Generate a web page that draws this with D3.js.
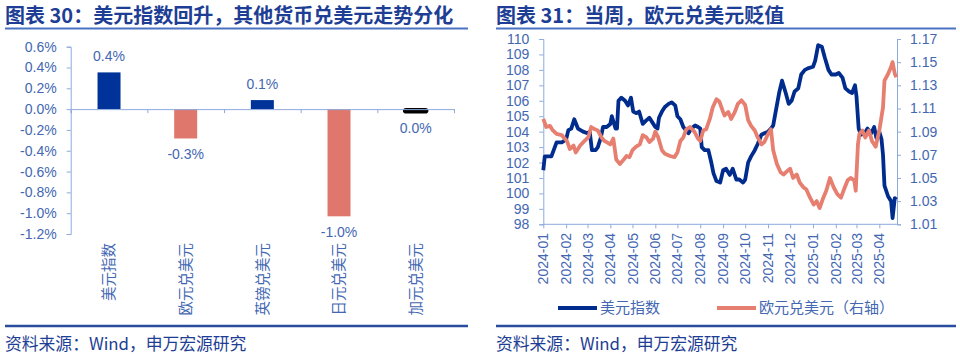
<!DOCTYPE html>
<html><head><meta charset="utf-8">
<script src="https://cdn.jsdelivr.net/npm/d3@7"></script>
<style>body{margin:0;background:#fff;} svg{display:block;}</style>
</head><body><svg id="c" width="960" height="358"></svg>
<script>
// ---------- data ----------
const barCategories = ["美元指数","欧元兑美元","英镑兑美元","日元兑美元","加元兑美元"];
const barValues = [0.353, -0.282, 0.087, -1.03, -0.03];
const barLabels = ["0.4%","-0.3%","0.1%","-1.0%","0.0%"];
const barTickValues = [0.6,0.4,0.2,0.0,-0.2,-0.4,-0.6,-0.8,-1.0,-1.2];

const dxyDates = ["2024-01-01","2024-01-03","2024-01-12","2024-01-19","2024-01-26","2024-02-01","2024-02-04","2024-02-08","2024-02-12","2024-02-17","2024-02-24","2024-03-01","2024-03-04","2024-03-07","2024-03-12","2024-03-15","2024-03-19","2024-03-22","2024-03-27","2024-04-01","2024-04-03","2024-04-08","2024-04-10","2024-04-12","2024-04-16","2024-04-21","2024-04-25","2024-04-29","2024-05-02","2024-05-06","2024-05-10","2024-05-15","2024-05-19","2024-05-24","2024-05-28","2024-06-01","2024-06-04","2024-06-06","2024-06-10","2024-06-14","2024-06-19","2024-06-23","2024-06-28","2024-07-01","2024-07-05","2024-07-09","2024-07-16","2024-07-20","2024-07-25","2024-07-29","2024-08-01","2024-08-03","2024-08-07","2024-08-12","2024-08-16","2024-08-19","2024-08-23","2024-08-28","2024-09-01","2024-09-05","2024-09-10","2024-09-14","2024-09-19","2024-09-23","2024-09-28","2024-10-01","2024-10-05","2024-10-09","2024-10-14","2024-10-18","2024-10-23","2024-10-27","2024-11-01","2024-11-05","2024-11-08","2024-11-11","2024-11-16","2024-11-20","2024-11-25","2024-11-29","2024-12-03","2024-12-07","2024-12-12","2024-12-16","2024-12-21","2024-12-25","2025-01-01","2025-01-04","2025-01-08","2025-01-13","2025-01-17","2025-01-22","2025-01-26","2025-02-01","2025-02-05","2025-02-10","2025-02-14","2025-02-19","2025-02-23","2025-02-27","2025-03-01","2025-03-04","2025-03-07","2025-03-12","2025-03-16","2025-03-21","2025-03-25","2025-03-28","2025-04-01","2025-04-04","2025-04-06","2025-04-08","2025-04-13","2025-04-17","2025-04-19","2025-04-22","2025-04-24"];
const dxyValues = [101.5,102.4,102.4,103.3,103.3,103.5,104.1,104.2,104.8,104.2,104.0,103.9,104.0,102.8,102.8,103.0,103.6,104.3,104.3,104.5,105.0,104.2,104.2,106.0,106.2,106.0,105.7,106.2,105.3,105.2,105.3,104.5,104.7,104.9,104.6,104.3,104.2,104.9,105.3,105.6,105.8,105.9,105.7,105.0,104.8,104.3,103.9,104.2,104.4,104.3,104.2,103.0,102.8,102.8,102.0,101.3,100.8,100.7,101.5,101.6,101.2,101.6,100.9,100.9,100.7,100.9,102.0,102.4,102.8,103.2,103.8,103.9,104.0,104.2,104.4,105.2,106.5,107.3,106.5,105.8,106.0,106.6,106.8,107.7,108.0,108.1,108.2,108.6,109.6,109.5,108.8,108.0,107.7,107.7,107.8,107.5,106.8,106.6,106.5,107.0,106.3,104.2,103.8,103.9,104.2,103.9,104.3,103.6,104.0,103.5,102.5,100.5,99.8,99.5,98.4,99.7,99.6];

const eurDates = ["2024-01-01","2024-01-05","2024-01-10","2024-01-14","2024-01-19","2024-01-26","2024-02-02","2024-02-06","2024-02-11","2024-02-14","2024-02-20","2024-02-26","2024-03-02","2024-03-06","2024-03-11","2024-03-15","2024-03-20","2024-03-24","2024-04-01","2024-04-05","2024-04-09","2024-04-14","2024-04-18","2024-04-23","2024-04-27","2024-05-01","2024-05-06","2024-05-11","2024-05-15","2024-05-20","2024-05-24","2024-05-29","2024-06-01","2024-06-05","2024-06-10","2024-06-14","2024-06-21","2024-06-27","2024-07-01","2024-07-05","2024-07-09","2024-07-13","2024-07-18","2024-07-24","2024-07-29","2024-08-01","2024-08-05","2024-08-09","2024-08-14","2024-08-18","2024-08-23","2024-08-27","2024-09-01","2024-09-03","2024-09-08","2024-09-12","2024-09-17","2024-09-21","2024-09-26","2024-10-01","2024-10-05","2024-10-09","2024-10-14","2024-10-18","2024-10-23","2024-10-27","2024-11-01","2024-11-05","2024-11-08","2024-11-13","2024-11-18","2024-11-22","2024-11-27","2024-12-01","2024-12-05","2024-12-10","2024-12-14","2024-12-19","2024-12-23","2024-12-28","2025-01-02","2025-01-06","2025-01-10","2025-01-15","2025-01-19","2025-01-24","2025-01-29","2025-02-03","2025-02-08","2025-02-12","2025-02-17","2025-02-21","2025-02-26","2025-02-28","2025-03-03","2025-03-05","2025-03-09","2025-03-13","2025-03-18","2025-03-22","2025-03-27","2025-04-01","2025-04-04","2025-04-06","2025-04-08","2025-04-13","2025-04-17","2025-04-19","2025-04-22","2025-04-24"];
const eurValues = [1.101,1.094,1.095,1.091,1.088,1.087,1.082,1.075,1.078,1.072,1.078,1.082,1.085,1.094,1.092,1.091,1.085,1.082,1.079,1.084,1.066,1.062,1.065,1.069,1.068,1.074,1.077,1.079,1.087,1.085,1.081,1.084,1.090,1.085,1.074,1.071,1.069,1.068,1.072,1.082,1.085,1.092,1.094,1.090,1.084,1.082,1.091,1.092,1.101,1.111,1.118,1.116,1.107,1.104,1.107,1.101,1.107,1.114,1.117,1.113,1.100,1.095,1.091,1.085,1.079,1.081,1.088,1.092,1.074,1.062,1.055,1.053,1.056,1.058,1.050,1.053,1.046,1.042,1.040,1.033,1.027,1.030,1.024,1.033,1.039,1.050,1.042,1.036,1.033,1.040,1.048,1.050,1.048,1.039,1.079,1.088,1.091,1.085,1.091,1.082,1.077,1.091,1.103,1.111,1.134,1.140,1.146,1.150,1.140,1.137];

const monthTicks = ["2024-01","2024-02","2024-03","2024-04","2024-05","2024-06","2024-07","2024-08","2024-09","2024-10","2024-11","2024-12","2025-01","2025-02","2025-03","2025-04"];
const leftAxisTicks = [98,99,100,101,102,103,104,105,106,107,108,109,110];
const rightAxisTicks = [1.01,1.03,1.05,1.07,1.09,1.11,1.13,1.15,1.17];
const seriesNames = ["美元指数","欧元兑美元（右轴）"];

// ---------- styles ----------
const C_TEXT = "#4467b2", C_AXIS = "#8eaadb", C_TITLE = "#1d3e94";
const C_BLUE = "#00339a", C_RED = "#e0776c";
const barColors = [C_BLUE, C_RED, C_BLUE, C_RED, "#000000"];
const NUM_FONT = "'Liberation Sans', Arial, sans-serif";
const CJK_FONT = "'Noto Sans CJK SC', sans-serif";

const svg = d3.select("#c");
svg.append("rect").attr("width",960).attr("height",358).attr("fill","#fff");

// titles & frame lines
function header(x, x2, text) {
  svg.append("text").attr("x", x).attr("y", 23).attr("fill", C_TITLE)
    .attr("font-family", CJK_FONT).attr("font-weight", "bold").attr("font-size", 20).text(text);
  svg.append("line").attr("x1", x).attr("x2", x2).attr("y1", 28.5).attr("y2", 28.5)
    .attr("stroke", "#4a72c2").attr("stroke-width", 2);
  svg.append("line").attr("x1", x).attr("x2", x2).attr("y1", 326).attr("y2", 326)
    .attr("stroke", "#2a4c9e").attr("stroke-width", 2.5);
  svg.append("text").attr("x", x).attr("y", 350).attr("fill", C_TITLE)
    .attr("font-family", CJK_FONT).attr("font-size", 16.8).text("资料来源：Wind，申万宏源研究");
}
header(5, 468, "图表 30：美元指数回升，其他货币兑美元走势分化");
header(496, 956, "图表 31：当周，欧元兑美元贬值");

// ---------- left bar chart ----------
const bx = d3.scaleBand().domain(barCategories).range([70.7, 454]).paddingInner(0.7).paddingOuter(0.35);
const by = d3.scaleLinear().domain([-1.2, 0.6]).range([234, 46.7]);
const g1 = svg.append("g");

const yAx = g1.append("g").attr("transform", "translate(70.7,0)")
  .call(d3.axisLeft(by).tickValues(barTickValues).tickSize(4).tickPadding(10).tickFormat(d => d.toFixed(1) + "%"));
yAx.selectAll("path,line").attr("stroke", C_AXIS);
yAx.selectAll("text").attr("fill", C_TEXT).attr("font-family", NUM_FONT).attr("font-size", 14);

g1.selectAll("rect.bar").data(barValues).join("rect")
  .attr("x", (d, i) => bx(barCategories[i]))
  .attr("width", bx.bandwidth())
  .attr("y", d => by(Math.max(0, d)))
  .attr("height", d => Math.abs(by(d) - by(0)))
  .attr("fill", (d, i) => barColors[i])
  .attr("stroke", (d, i) => i === 4 ? "#000" : "none")
  .attr("stroke-width", 2.5).attr("rx", (d, i) => i === 4 ? 2 : 0);

// zero axis with category ticks
const xAx = g1.append("g").attr("transform", `translate(0,${by(0)})`)
  .call(d3.axisBottom(d3.scaleLinear().domain([0, 5]).range([70.7, 454])).tickValues([0,1,2,3,4,5]).tickSize(4).tickFormat(""));
xAx.selectAll("path,line").attr("stroke", C_AXIS);

g1.selectAll("text.val").data(barValues).join("text")
  .attr("x", (d, i) => bx(barCategories[i]) + bx.bandwidth() / 2)
  .attr("y", d => d >= 0 ? by(d) - 11 : by(d) + 21)
  .attr("text-anchor", "middle").attr("fill", C_TEXT)
  .attr("font-family", NUM_FONT).attr("font-size", 14)
  .text((d, i) => barLabels[i]);

g1.selectAll("text.cat").data(barCategories).join("text")
  .attr("transform", d => `translate(${bx(d) + bx.bandwidth() / 2},243) rotate(-90)`)
  .attr("text-anchor", "end").attr("dy", "0.36em").attr("fill", C_TEXT)
  .attr("font-family", CJK_FONT).attr("font-size", 14.5).text(d => d);

// ---------- right line chart ----------
const parse = d3.timeParse("%Y-%m-%d");
const px0 = 543.3, px1 = 897, pyTop = 39, pyBot = 224.3;
const tx = d3.scaleTime().domain([parse("2024-01-01"), parse("2025-04-25")]).range([px0, px1]);
const yl = d3.scaleLinear().domain([98, 110]).range([pyBot, pyTop]);
const yr = d3.scaleLinear().domain([1.01, 1.17]).range([pyBot, pyTop]);
const g2 = svg.append("g");

const la = g2.append("g").attr("transform", `translate(${px0},0)`)
  .call(d3.axisLeft(yl).tickValues(leftAxisTicks).tickSize(4).tickPadding(10).tickFormat(d3.format("d")));
const ra = g2.append("g").attr("transform", `translate(${px1},0)`)
  .call(d3.axisRight(yr).tickValues(rightAxisTicks).tickSize(4).tickPadding(9).tickFormat(d3.format(".2f")));
const monthDates = monthTicks.map(m => parse(m + "-01"));
const ba = g2.append("g").attr("transform", `translate(0,${pyBot})`)
  .call(d3.axisBottom(tx).tickValues(monthDates).tickSize(4).tickFormat(""));
[la, ra, ba].forEach(a => {
  a.selectAll("path,line").attr("stroke", C_AXIS);
  a.selectAll("text").attr("fill", C_TEXT).attr("font-family", NUM_FONT).attr("font-size", 14);
});
ba.select("path.domain").attr("d", `M${px0},0H${px1}`);

g2.selectAll("text.mt").data(monthTicks).join("text")
  .attr("transform", (d, i) => `translate(${tx(monthDates[i])},233) rotate(-90)`)
  .attr("text-anchor", "end").attr("dy", "0.36em").attr("fill", C_TEXT)
  .attr("font-family", NUM_FONT).attr("font-size", 14).text(d => d);

const dxy = dxyDates.map((d, i) => [parse(d), dxyValues[i]]);
const eur = eurDates.map((d, i) => [parse(d), eurValues[i]]);
g2.append("path").datum(dxy).attr("fill", "none").attr("stroke", "#002c8e")
  .attr("stroke-width", 3.8).attr("stroke-linejoin", "round")
  .attr("d", d3.line().x(d => tx(d[0])).y(d => yl(d[1])));
g2.append("path").datum(eur).attr("fill", "none").attr("stroke", "#e67f70")
  .attr("stroke-width", 3.8).attr("stroke-linejoin", "round")
  .attr("d", d3.line().x(d => tx(d[0])).y(d => yr(d[1])));

// legend
const legend = [[558, "#002c8e", seriesNames[0]], [717, "#e67f70", seriesNames[1]]];
legend.forEach(([x, c, t]) => {
  svg.append("line").attr("x1", x).attr("x2", x + 39).attr("y1", 308).attr("y2", 308)
    .attr("stroke", c).attr("stroke-width", 4);
  svg.append("text").attr("x", x + 42).attr("y", 308).attr("dy", "0.36em").attr("fill", C_TEXT)
    .attr("font-family", CJK_FONT).attr("font-size", 15).text(t);
});
</script></body></html>
